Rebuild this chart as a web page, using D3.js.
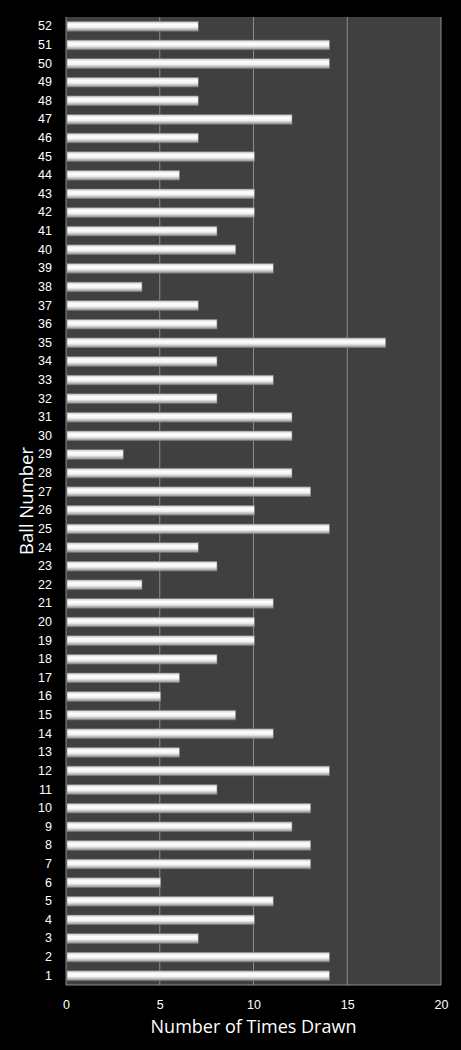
<!DOCTYPE html>
<html>
<head>
<meta charset="utf-8">
<script src="https://cdn.jsdelivr.net/npm/d3@7"></script>
<style>
  body { margin: 0; background: #000; }
  svg { display: block; font-family: "Open Sans", "DejaVu Sans", sans-serif; }
</style>
</head>
<body>
<script>
// ball numbers 1..52 and how often each was drawn
var balls = d3.range(1, 53);
var timesDrawn = [14, 14, 7, 10, 11, 5, 13, 13, 12, 13,
                  8, 14, 6, 11, 9, 5, 6, 8, 10, 10,
                  11, 4, 8, 7, 14, 10, 13, 12, 3, 12,
                  12, 8, 11, 8, 17, 8, 7, 4, 11, 9,
                  8, 10, 10, 6, 10, 7, 12, 7, 7, 14,
                  14, 7];
var xTicks = [0, 5, 10, 15, 20];

var data = balls.map(function(b, i) { return {ball: b, count: timesDrawn[i]}; });

var margin = {top: 17, right: 20, bottom: 65, left: 66},
    width = 461 - margin.left - margin.right,
    height = 1050 - margin.top - margin.bottom;

var svg = d3.select("body").append("svg")
    .attr("width", 461)
    .attr("height", 1050);

// bar gradient, gives the shiny tube look
var grad = svg.append("defs").append("linearGradient")
    .attr("id", "barGrad")
    .attr("x1", 0).attr("y1", 0).attr("x2", 0).attr("y2", 1);
grad.append("stop").attr("offset", "0%").attr("stop-color", "#c8c8c8");
grad.append("stop").attr("offset", "30%").attr("stop-color", "#ffffff");
grad.append("stop").attr("offset", "60%").attr("stop-color", "#f2f2f2");
grad.append("stop").attr("offset", "100%").attr("stop-color", "#8c8c8c");

var g = svg.append("g")
    .attr("transform", "translate(" + margin.left + "," + margin.top + ")");

var x = d3.scaleLinear()
    .domain([0, 20])
    .range([0, width]);

var y = d3.scaleBand()
    .domain(balls)
    .range([height, 0])
    .paddingInner(0.48)
    .paddingOuter(0.24);

// plot background
g.append("rect")
    .attr("width", width)
    .attr("height", height)
    .attr("fill", "#404040");

// gridlines
g.selectAll(".grid")
    .data(xTicks.slice(1))
  .enter().append("line")
    .attr("x1", function(d) { return x(d); })
    .attr("x2", function(d) { return x(d); })
    .attr("y1", 0)
    .attr("y2", height)
    .attr("stroke", "#8c8c8c")
    .attr("stroke-width", 1);

// bars
g.selectAll(".bar")
    .data(data)
  .enter().append("rect")
    .attr("class", "bar")
    .attr("x", 1)
    .attr("y", function(d) { return y(d.ball); })
    .attr("width", function(d) { return x(d.count); })
    .attr("height", y.bandwidth())
    .attr("fill", "url(#barGrad)")
    .attr("stroke", "#7a7a7a")
    .attr("stroke-width", 0.6);

// left and bottom axis lines
g.append("line")
    .attr("x1", 0).attr("x2", 0)
    .attr("y1", 0).attr("y2", height)
    .attr("stroke", "#8c8c8c");
g.append("line")
    .attr("x1", 0).attr("x2", width)
    .attr("y1", height).attr("y2", height)
    .attr("stroke", "#8c8c8c");

// y axis
var yAxis = g.append("g")
    .call(d3.axisLeft(y).tickSize(0).tickPadding(14));
yAxis.select(".domain").remove();
yAxis.selectAll("text")
    .attr("fill", "#ffffff")
    .style("font-size", "12.5px");

// x axis
var xAxis = g.append("g")
    .attr("transform", "translate(0," + height + ")")
    .call(d3.axisBottom(x).tickValues(xTicks).tickSize(0).tickPadding(15));
xAxis.select(".domain").remove();
xAxis.selectAll("text")
    .attr("fill", "#ffffff")
    .style("font-size", "12.5px");

// axis titles
svg.append("text")
    .attr("x", margin.left + x(10))
    .attr("y", 1033)
    .attr("text-anchor", "middle")
    .attr("fill", "#ffffff")
    .style("font-size", "18px")
    .text("Number of Times Drawn");

svg.append("text")
    .attr("transform", "translate(33,501) rotate(-90)")
    .attr("text-anchor", "middle")
    .attr("fill", "#ffffff")
    .style("font-size", "18.5px")
    .text("Ball Number");
</script>
</body>
</html>
